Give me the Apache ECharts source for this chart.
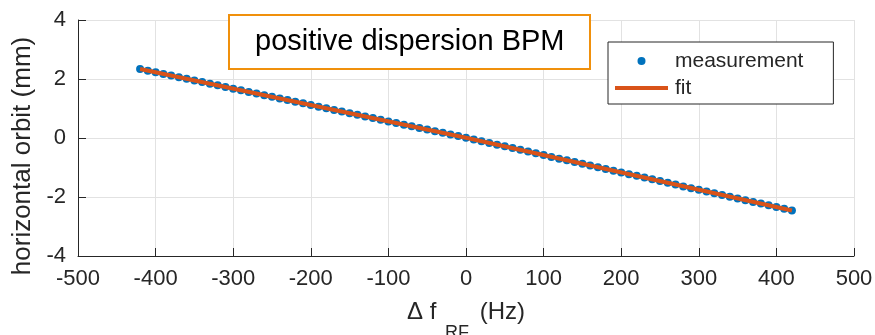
<!DOCTYPE html>
<html>
<head>
<meta charset="utf-8">
<script src="https://cdn.jsdelivr.net/npm/echarts@6/dist/echarts.min.js"></script>
<style>
  html, body { margin: 0; padding: 0; background: #ffffff; }
  #chart { width: 875px; height: 335px; }
</style>
</head>
<body>
<div id="chart"></div>
<script>
// RF frequency offsets (Hz) of the measured points
const freqOffsets = [
  -420, -410, -400, -390, -380, -370, -360, -350, -340, -330,
  -320, -310, -300, -290, -280, -270, -260, -250, -240, -230,
  -220, -210, -200, -190, -180, -170, -160, -150, -140, -130,
  -120, -110, -100, -90, -80, -70, -60, -50, -40, -30,
  -20, -10, 0, 10, 20, 30, 40, 50, 60, 70,
  80, 90, 100, 110, 120, 130, 140, 150, 160, 170,
  180, 190, 200, 210, 220, 230, 240, 250, 260, 270,
  280, 290, 300, 310, 320, 330, 340, 350, 360, 370,
  380, 390, 400, 410, 420
];

// Horizontal orbit readings (mm) at the BPM
const orbitMeasured = [
  2.34, 2.28, 2.23, 2.17, 2.12, 2.06, 2.01, 1.95, 1.90, 1.84,
  1.79, 1.73, 1.67, 1.62, 1.56, 1.51, 1.45, 1.40, 1.34, 1.29,
  1.23, 1.18, 1.12, 1.06, 1.01, 0.95, 0.90, 0.84, 0.79, 0.73,
  0.68, 0.62, 0.56, 0.51, 0.45, 0.40, 0.34, 0.29, 0.23, 0.18,
  0.12, 0.07, 0.01, -0.05, -0.11, -0.17, -0.23, -0.28, -0.34, -0.40,
  -0.46, -0.52, -0.58, -0.64, -0.70, -0.75, -0.81, -0.87, -0.93, -0.99,
  -1.05, -1.11, -1.17, -1.23, -1.28, -1.34, -1.40, -1.46, -1.52, -1.58,
  -1.64, -1.70, -1.75, -1.81, -1.87, -1.93, -1.99, -2.05, -2.11, -2.17,
  -2.22, -2.28, -2.34, -2.40, -2.46
];

// Fitted line through the measurement
const fitFreq = [-420, 0, 420];
const fitOrbit = [2.34, 0.01, -2.46];

// Axis ranges and tick spacing
const xRange = [-500, 500];
const xStep = 100;
const yRange = [-4, 4];
const yStep = 2;

const titleText = 'positive dispersion BPM';
const seriesNames = ['measurement', 'fit'];

const FONT = '"Liberation Sans", Arial, Helvetica, sans-serif';
const AXIS_DARK = '#262626';
const GRID_GRAY = '#e2e2e2';
const BLUE = '#0072bd';
const ORANGE = '#d95319';

const measuredPairs = freqOffsets.map((f, i) => [f, orbitMeasured[i]]);
const fitPairs = fitFreq.map((f, i) => [f, fitOrbit[i]]);

const chart = echarts.init(document.getElementById('chart'), null, { renderer: 'canvas' });

chart.setOption({
  animation: false,
  backgroundColor: '#ffffff',
  textStyle: { fontFamily: FONT },
  title: {
    text: titleText,
    left: 229,
    top: 15,
    padding: [10, 26, 10, 26],
    borderColor: '#f0900c',
    borderWidth: 2,
    backgroundColor: '#ffffff',
    textStyle: {
      fontFamily: FONT,
      fontSize: 29,
      fontWeight: 'normal',
      color: '#000000',
      lineHeight: 34
    }
  },
  legend: {
    orient: 'vertical',
    left: 608,
    top: 42,
    padding: [8, 30, 5, 7],
    itemWidth: 53,
    itemHeight: 10,
    itemGap: 5,
    symbolKeepAspect: true,
    borderColor: AXIS_DARK,
    borderWidth: 1,
    backgroundColor: '#ffffff',
    textStyle: { fontFamily: FONT, fontSize: 21, color: AXIS_DARK, lineHeight: 22, padding: [0, 0, 0, 2] },
    data: [
      { name: seriesNames[0] },
      { name: seriesNames[1], icon: 'path://M0,0L53,0L53,4L0,4Z', itemStyle: { color: ORANGE } }
    ]
  },
  grid: {
    left: 78,
    right: 21,
    top: 20,
    bottom: 79,
    containLabel: false,
    outerBoundsMode: 'none'
  },
  xAxis: {
    type: 'value',
    min: xRange[0],
    max: xRange[1],
    interval: xStep,
    name: '{n|\u0394 f }{s|RF}{n| (Hz)}',
    nameLocation: 'middle',
    nameGap: 44,
    nameTextStyle: {
      rich: {
        n: { fontFamily: FONT, fontSize: 24, color: AXIS_DARK, lineHeight: 30, verticalAlign: 'top' },
        s: { fontFamily: FONT, fontSize: 18, color: AXIS_DARK, lineHeight: 30, verticalAlign: 'top', padding: [24, 4, 0, 2] }
      }
    },
    axisLine: { show: true, onZero: false, lineStyle: { color: AXIS_DARK, width: 1 } },
    axisTick: { show: true, inside: true, length: 8, lineStyle: { color: AXIS_DARK, width: 1 } },
    axisLabel: { fontFamily: FONT, fontSize: 22, color: AXIS_DARK, margin: 12 },
    splitLine: { show: true, lineStyle: { color: GRID_GRAY, width: 1 } }
  },
  yAxis: {
    type: 'value',
    min: yRange[0],
    max: yRange[1],
    interval: yStep,
    name: 'horizontal orbit (mm)',
    nameLocation: 'middle',
    nameGap: 40,
    nameTextStyle: { fontFamily: FONT, fontSize: 26, color: AXIS_DARK, padding: [0, 36, 0, 0] },
    axisLine: { show: true, onZero: false, lineStyle: { color: AXIS_DARK, width: 1 } },
    axisTick: { show: true, inside: true, length: 8, lineStyle: { color: AXIS_DARK, width: 1 } },
    axisLabel: { fontFamily: FONT, fontSize: 22, color: AXIS_DARK, margin: 12 },
    splitLine: { show: true, lineStyle: { color: GRID_GRAY, width: 1 } }
  },
  series: [
    {
      name: seriesNames[0],
      type: 'line',
      data: measuredPairs,
      symbol: 'circle',
      symbolSize: 8,
      showSymbol: true,
      lineStyle: { width: 0, opacity: 0 },
      itemStyle: { color: BLUE, borderWidth: 0 },
      emphasis: { disabled: true },
      z: 2
    },
    {
      name: seriesNames[1],
      type: 'line',
      data: fitPairs,
      symbol: 'none',
      lineStyle: { width: 4, color: ORANGE },
      itemStyle: { color: ORANGE },
      emphasis: { disabled: true },
      z: 3
    }
  ]
});
</script>
</body>
</html>
